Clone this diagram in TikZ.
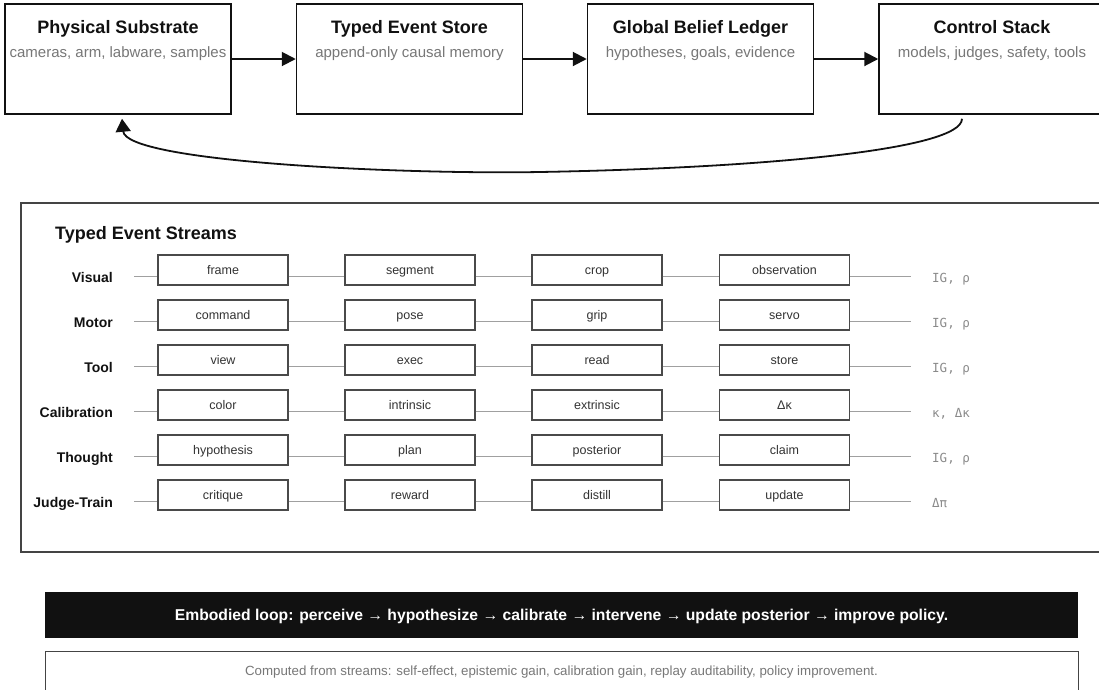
\documentclass[tikz,border=0pt]{standalone}
\usepackage{fontspec}
\setmainfont{Liberation Sans}
\newfontfamily\codefont{DejaVu Sans Mono}
\usetikzlibrary{arrows.meta,calc}

\definecolor{ink}{HTML}{111111}
\definecolor{subgray}{HTML}{777777}
\definecolor{boxedge}{HTML}{4A4A4A}
\definecolor{wire}{HTML}{A0A0A0}
\definecolor{boxtext}{HTML}{333333}
\definecolor{notegray}{HTML}{8A8A8A}
\definecolor{panel}{HTML}{444444}

\tikzset{
  stagebox/.style={draw=ink, line width=1.5pt, fill=white,
    minimum width=226pt, minimum height=110pt, inner sep=0pt},
  stagetitle/.style={font=\fontsize{18}{22}\selectfont\bfseries, text=ink, inner sep=0pt,
    text height=13pt, text depth=0pt},
  stagesub/.style={font=\fontsize{15}{18}\selectfont, text=subgray, inner sep=0pt,
    text height=11pt, text depth=0pt},
  flow/.style={draw=ink, line width=2pt, -{Triangle[length=14pt,width=14pt]}},
  feedback/.style={draw=ink, line width=1.8pt, -{Triangle[length=13pt,width=15pt]}},
  evbox/.style={draw=boxedge, line width=1.3pt, fill=white, minimum width=130pt,
    minimum height=30pt, inner sep=0pt, text=boxtext, text height=9pt, text depth=0pt,
    font=\fontsize{12.5}{15}\selectfont},
  rowlabel/.style={anchor=base east, font=\fontsize{14}{17}\selectfont\bfseries,
    text=ink, inner sep=0pt},
  streamline/.style={draw=wire, line width=1pt},
  metric/.style={anchor=base west, font=\codefont\fontsize{12.5}{15}\selectfont,
    text=notegray, inner sep=0pt},
}

\begin{document}
\begin{tikzpicture}[x=1pt,y=-1pt]
\useasboundingbox (0,0) rectangle (1099,689);

% pipeline stages
\node[stagebox] (ps) at (118,59) {};
\node[stagebox] (tes) at (409.5,59) {};
\node[stagebox] (gbl) at (700.5,59) {};
\node[stagebox] (cs) at (992,59) {};

\foreach \n/\t/\s in {ps/Physical Substrate/{cameras, arm, labware, samples},
                      tes/Typed Event Store/append-only causal memory,
                      gbl/Global Belief Ledger/{hypotheses, goals, evidence},
                      cs/Control Stack/{models, judges, safety, tools}}{
  \node[stagetitle] (\n-t) at ($(\n.north)+(0,24)$) {\t};
  \node[stagesub] (\n-s) at ($(\n.north)+(0,48.5)$) {\s};
}

\draw[flow] (ps) -- (tes);
\draw[flow] (tes) -- (gbl);
\draw[flow] (gbl) -- (cs);

% feedback from control back to the substrate
\coordinate (fbA) at ($(cs.south)+(-30,4)$);
\coordinate (fbM) at (540,172);
\coordinate (fbB) at ($(ps.south)+(4,4)$);
\draw[feedback] (fbA) .. controls (962,150) and (760,168) .. (fbM)
                      .. controls (400,174.5) and (126,162) .. (fbB);

% typed event streams panel
\draw[draw=panel, line width=1.5pt] (21,203) rectangle (1108,552);
\node[anchor=west, font=\fontsize{18}{22}\selectfont\bfseries, text=ink, inner sep=0pt]
  (streams-title) at (55,235) {Typed Event Streams};

\foreach \lab/\a/\b/\c/\d/\m [count=\i] in {
    Visual/frame/segment/crop/observation/{IG, ρ},
    Motor/command/pose/grip/servo/{IG, ρ},
    Tool/view/exec/read/store/{IG, ρ},
    Calibration/color/intrinsic/extrinsic/Δκ/{κ, Δκ},
    Thought/hypothesis/plan/posterior/claim/{IG, ρ},
    Judge-Train/critique/reward/distill/update/Δπ}{
  \pgfmathsetmacro\yy{231+45*\i}
  \coordinate (s\i) at (134,\yy);
  \coordinate (e\i) at (911,\yy);
  \node[rowlabel] (lab\i) at (113,\yy+6) {\lab};
  \node[evbox] (ba\i) at (223,\yy-6) {\a};
  \node[evbox] (bb\i) at (410,\yy-6) {\b};
  \node[evbox] (bc\i) at (597,\yy-6) {\c};
  \node[evbox] (bd\i) at (784.5,\yy-6) {\d};
  \draw[streamline] (s\i) -- (s\i -| ba\i.west);
  \draw[streamline] (s\i -| ba\i.east) -- (s\i -| bb\i.west);
  \draw[streamline] (s\i -| bb\i.east) -- (s\i -| bc\i.west);
  \draw[streamline] (s\i -| bc\i.east) -- (s\i -| bd\i.west);
  \draw[streamline] (s\i -| bd\i.east) -- (e\i);
  \node[metric] (m\i) at (932,\yy+6.5) {\m};
}

% summary bars
\node[fill=ink, minimum width=1033pt, minimum height=46pt, inner sep=0pt,
  text=white, text height=11pt, text depth=0pt,
  font=\fontsize{15.7}{18}\selectfont\bfseries] (loop) at (561.5,615)
  {Embodied loop: perceive → hypothesize → calibrate → intervene → update posterior → improve policy.};
\draw[draw=panel, line width=1pt] (45,651) rectangle (1078,700);
\node[text=subgray, text height=9.5pt, text depth=0pt,
  font=\fontsize{13.3}{16}\selectfont, inner sep=0pt] (computed) at (561.5,671)
  {Computed from streams: self-effect, epistemic gain, calibration gain, replay auditability, policy improvement.};
\end{tikzpicture}
\end{document}
